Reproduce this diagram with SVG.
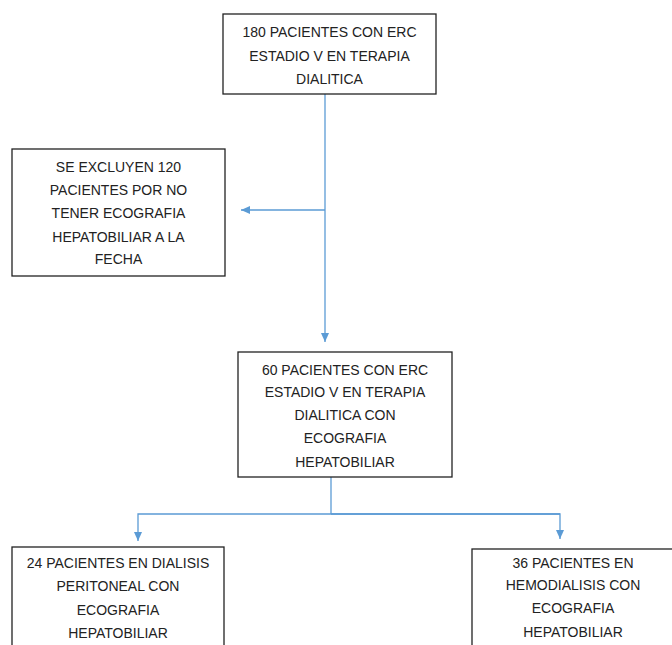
<svg xmlns="http://www.w3.org/2000/svg" width="672" height="645" viewBox="0 0 672 645">
<style>
.box{fill:#fff;stroke:#222;stroke-width:1.3}
.t{font-family:"Liberation Sans",Arial,sans-serif;font-size:14px;fill:#222;text-anchor:middle}
.c{fill:none;stroke:#5b9bd5;stroke-width:1.3}
</style>
<defs>
<marker id="ah" markerWidth="10" markerHeight="10" refX="9" refY="5" orient="auto" markerUnits="userSpaceOnUse">
<path d="M0,1 L9,5 L0,9 Z" fill="#5b9bd5"/>
</marker>
</defs>
<rect width="672" height="645" fill="#fff"/>
<g id="connectors">
<path class="c" d="M325,94 V342" marker-end="url(#ah)"/>
<path class="c" d="M325,210 H241" marker-end="url(#ah)"/>
<path class="c" d="M331,477 V514"/>
<path class="c" d="M560,514 H138 V541" marker-end="url(#ah)"/>
<path class="c" d="M331,514 H560 V539" marker-end="url(#ah)"/>
</g>
<g id="n1">
<rect class="box" x="223" y="14" width="213" height="80"/>
<text class="t" x="329.5" y="37">180 PACIENTES CON ERC</text>
<text class="t" x="329.5" y="61">ESTADIO V EN TERAPIA</text>
<text class="t" x="329.5" y="84">DIALITICA</text>
</g>
<g id="n2">
<rect class="box" x="12" y="149" width="213" height="127"/>
<text class="t" x="118.5" y="172">SE EXCLUYEN 120</text>
<text class="t" x="118.5" y="195">PACIENTES POR NO</text>
<text class="t" x="118.5" y="218">TENER ECOGRAFIA</text>
<text class="t" x="118.5" y="242">HEPATOBILIAR A LA</text>
<text class="t" x="118.5" y="264">FECHA</text>
</g>
<g id="n3">
<rect class="box" x="238" y="352" width="214" height="125"/>
<text class="t" x="345" y="375">60 PACIENTES CON ERC</text>
<text class="t" x="345" y="397">ESTADIO V EN TERAPIA</text>
<text class="t" x="345" y="420">DIALITICA CON</text>
<text class="t" x="345" y="443">ECOGRAFIA</text>
<text class="t" x="345" y="467">HEPATOBILIAR</text>
</g>
<g id="n4">
<rect class="box" x="12" y="547" width="212" height="110"/>
<text class="t" x="118" y="568">24 PACIENTES EN DIALISIS</text>
<text class="t" x="118" y="591">PERITONEAL CON</text>
<text class="t" x="118" y="615">ECOGRAFIA</text>
<text class="t" x="118" y="638">HEPATOBILIAR</text>
</g>
<g id="n5">
<rect class="box" x="472" y="549" width="210" height="110"/>
<text class="t" x="573" y="568">36 PACIENTES EN</text>
<text class="t" x="573" y="590">HEMODIALISIS CON</text>
<text class="t" x="573" y="613">ECOGRAFIA</text>
<text class="t" x="573" y="637">HEPATOBILIAR</text>
</g>
</svg>
